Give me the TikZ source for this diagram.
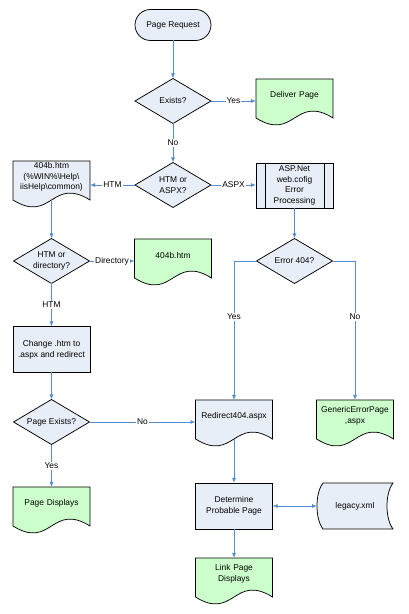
\documentclass[tikz,border=0pt]{standalone}
\usepackage{fontspec}
\setmainfont{Liberation Sans}
\usepackage{tikz}
\usetikzlibrary{arrows.meta,shapes.geometric,backgrounds}
\definecolor{boxblue}{RGB}{232,238,247}
\definecolor{docgreen}{RGB}{204,255,204}
\definecolor{linkblue}{RGB}{84,141,212}
\tikzstyle{base} = [font=\fontsize{8.4}{10.8}\selectfont, align=center, line width=0.75pt, draw=black, inner sep=0pt, outer sep=0pt]
\tikzstyle{startstop} = [base, rectangle, rounded corners=15.5pt, minimum width=76pt, minimum height=31pt, fill=boxblue]
\tikzstyle{decision} = [base, diamond, aspect=1.7, minimum width=76pt, minimum height=45pt, fill=boxblue]
\tikzstyle{process} = [base, rectangle, minimum width=77pt, minimum height=46pt, fill=boxblue]
\tikzstyle{subprocess} = [process, minimum height=45pt]
\tikzstyle{docnode} = [base, draw=none, rectangle, minimum width=77pt, minimum height=32pt, text width=74pt]
\tikzstyle{storeddata} = [base, draw=none, rectangle, minimum width=76pt, minimum height=46pt]
\tikzstyle{shapeline} = [draw=black, line width=0.75pt]
\tikzstyle{arrow} = [draw=linkblue, line width=0.8pt, >={Latex[length=5pt,width=4pt]}, ->]
\tikzstyle{linelabel} = [font=\fontsize{8.4}{10.8}\selectfont, fill=white, inner sep=1pt]

\begin{document}
\begin{tikzpicture}[x=1pt, y=1pt]
  \useasboundingbox (0,0) rectangle (408,614);

  \node (request) [startstop] at (173,589) {Page Request};
  \node (exists) [decision] at (173,513) {Exists?};
  \node (deliver) [docnode] at (294.5,519) {Deliver Page};
  \node (htmaspx) [decision] at (173,429) {HTM or\\ASPX?};
  \node (htmfile) [docnode] at (51.5,437) {404b.htm\\(\%WIN\%\textbackslash Help\textbackslash\\iisHelp\textbackslash common)};
  \node (aspnet) [subprocess] at (294.5,428.5) {ASP.Net\\web.cofig\\Error\\Processing};
  \node (htmdir) [decision] at (51.5,353) {HTM or\\directory?};
  \node (dirfile) [docnode] at (173,359) {404b.htm};
  \node (err404) [decision] at (294.5,353) {Error 404?};
  \node (change) [process] at (51.5,264.5) {Change .htm to\\.aspx and redirect};
  \node (pageexists) [decision] at (51.5,192) {Page Exists?};
  \node (redirect) [docnode] at (234,198) {Redirect404.aspx};
  \node (generic) [docnode] at (355,198) {GenericErrorPage\\,aspx};
  \node (displays) [docnode] at (51.5,111) {Page Displays};
  \node (determine) [process] at (234,108) {Determine\\Probable Page};
  \node (legacy) [storeddata] at (355,108) {legacy.xml};
  \node (linkpage) [docnode] at (234,40) {Link Page\\Displays};

  \draw [shapeline] ([xshift=9pt]aspnet.north west) -- ([xshift=9pt]aspnet.south west);
  \draw [shapeline] ([xshift=-9pt]aspnet.north east) -- ([xshift=-9pt]aspnet.south east);

  \begin{scope}[on background layer]
    \foreach \n/\c in {deliver/docgreen, htmfile/boxblue, dirfile/docgreen, redirect/boxblue,
                       generic/docgreen, displays/docgreen, linkpage/docgreen}
      \draw [shapeline, fill=\c] (\n.north west) -- (\n.north east) -- ([yshift=-7pt]\n.south east)
        .. controls ([yshift=17pt]\n.south) and ([yshift=-31pt]\n.south) .. ([yshift=-7pt]\n.south west) -- cycle;
    \draw [shapeline, fill=boxblue] ([xshift=6pt]legacy.north west) -- (legacy.north east)
      .. controls ([xshift=-8pt,yshift=-10pt]legacy.north east) and ([xshift=-8pt,yshift=10pt]legacy.south east) .. (legacy.south east)
      -- ([xshift=6pt]legacy.south west)
      .. controls ([xshift=-2pt,yshift=10pt]legacy.south west) and ([xshift=-2pt,yshift=-10pt]legacy.north west) .. ([xshift=6pt]legacy.north west) -- cycle;
  \end{scope}

  \draw [arrow] (request) -- (exists);
  \draw [arrow] (exists.east) -- (exists.east -| deliver.west) node [linelabel, midway] {Yes};
  \draw [arrow] (exists) -- node [linelabel] {No} (htmaspx);
  \draw [arrow] (htmaspx.west) -- (htmaspx.west -| htmfile.east) node [linelabel, midway] {HTM};
  \draw [arrow] (htmaspx.east) -- (htmaspx.east -| aspnet.west) node [linelabel, midway] {ASPX};
  \draw [arrow] ([yshift=-7pt]htmfile.south) -- (htmdir);
  \draw [arrow] (htmdir.east) -- (htmdir.east -| dirfile.west) node [linelabel, midway] {Directory};
  \draw [arrow] (htmdir) -- node [linelabel] {HTM} (change);
  \draw [arrow] (change) -- (pageexists);
  \draw [arrow] (pageexists.east) -- (pageexists.east -| redirect.west) node [linelabel, midway] {No};
  \draw [arrow] (pageexists) -- node [linelabel] {Yes} (displays);
  \draw [arrow] (aspnet) -- (err404);
  \draw [arrow] (err404.west) -| node [linelabel, pos=0.7] {Yes} (redirect.north);
  \draw [arrow] (err404.east) -| node [linelabel, pos=0.7] {No} (generic.north);
  \draw [arrow] ([yshift=-7pt]redirect.south) -- (determine);
  \draw [arrow, <->] (determine) -- (legacy);
  \draw [arrow] (determine) -- (linkpage);
\end{tikzpicture}
\end{document}
